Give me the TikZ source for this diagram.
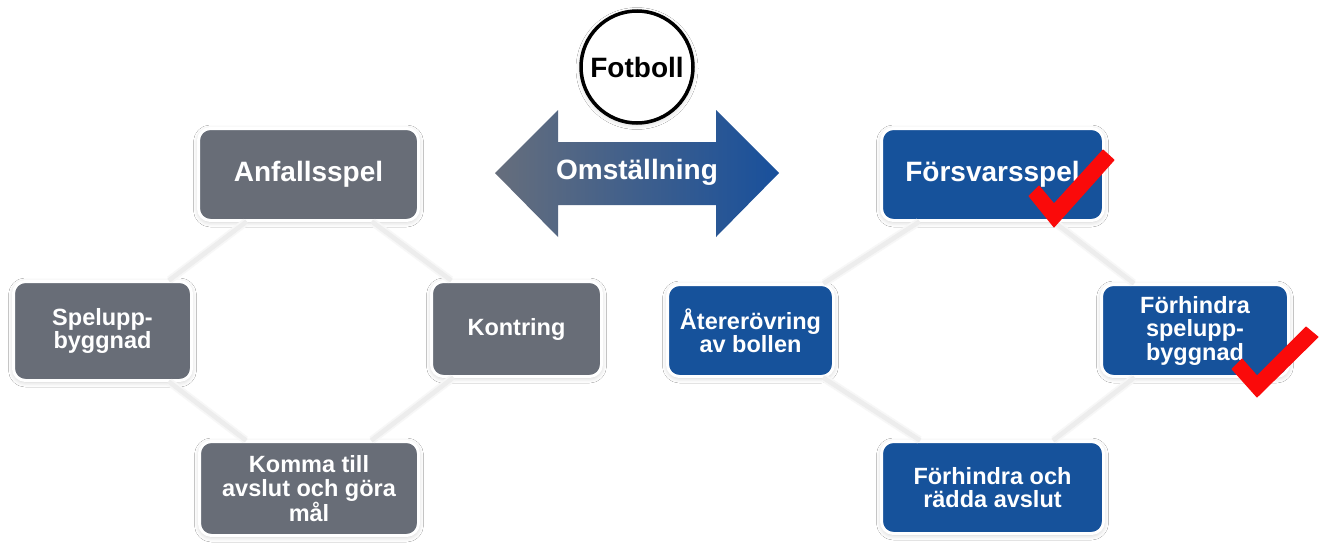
\documentclass[tikz,border=0pt]{standalone}
\usepackage{fontspec}
\setmainfont{Liberation Sans}
\usetikzlibrary{shadows.blur}
\definecolor{boxgray}{RGB}{104,109,119}
\definecolor{boxblue}{RGB}{22,82,155}
\definecolor{arrowleft}{RGB}{102,110,124}
\definecolor{arrowright}{RGB}{24,80,156}
\definecolor{linkgray}{RGB}{237,237,237}
\definecolor{linkshade}{RGB}{247,247,247}
\definecolor{checkred}{RGB}{250,10,10}
\begin{document}
\begin{tikzpicture}[x=1pt,y=-1pt,
  softshadow/.style={blur shadow={shadow xshift=0pt,shadow yshift=-1.5pt,shadow blur steps=8,shadow opacity=20,shadow blur radius=5pt}},
  box/.style={rounded corners=12pt,draw=white,line width=3pt,text=white,align=center,inner sep=0pt,softshadow,
    font=\bfseries\fontsize{23.5}{23.5}\selectfont},
  bigbox/.style={box,font=\bfseries\fontsize{28}{30}\selectfont},
  graybox/.style={fill=boxgray},
  bluebox/.style={fill=boxblue},
  link/.style={draw=linkgray,line width=4.5pt,shorten <=-1pt,shorten >=-1pt},
  linkhalo/.style={draw=linkshade,line width=8pt},
  check/.style={fill=checkred,draw=checkred,line width=1pt,line join=round}
]
\fill[white] (0,0) rectangle (1323,544);
\useasboundingbox (0,0) rectangle (1323,544);

% left group
\node[bigbox,graybox,minimum width=220pt,minimum height=92pt] (anf) at (308.5,174.5) {Anfallsspel};
\node[box,graybox,minimum width=178pt,minimum height=99pt] (spel) at (102.5,331) {Spelupp-\\byggnad};
\node[box,graybox,minimum width=170pt,minimum height=95pt] (kont) at (516.5,329) {Kontring};
\node[box,graybox,minimum width=219pt,minimum height=94pt] (komma) at (309,488.5) {Komma till\\avslut och göra\\mål};

% right group
\node[bigbox,bluebox,minimum width=222pt,minimum height=92pt] (forsv) at (992.5,174.5) {Försvarsspel};
\node[box,bluebox,minimum width=166pt,minimum height=92pt] (ater) at (750.5,330.5) {Återerövring\\av bollen};
\node[box,bluebox,minimum width=187pt,minimum height=92pt] (fspel) at (1195,330.5) {Förhindra\\spelupp-\\byggnad};
\node[box,bluebox,minimum width=222pt,minimum height=92pt] (frad) at (992.5,487.5) {Förhindra och\\rädda avslut};

% connectors (end at box borders)
\foreach \a/\b in {anf/spel,anf/kont,spel/komma,kont/komma,forsv/ater,forsv/fspel,ater/frad,fspel/frad}{
  \draw[linkhalo] (\a) -- (\b);
  \draw[link] (\a) -- (\b);
}

% double arrow
\shade[left color=arrowleft,right color=arrowright]
  (495,173) -- (558,110) -- (558,142) -- (716,142) -- (716,110) -- (779,173)
  -- (716,237) -- (716,205) -- (558,205) -- (558,237) -- cycle;
\node[text=white,font=\bfseries\fontsize{28}{30}\selectfont] (omst) at (637,172) {Omställning};

% circle
\node[circle,draw=black,line width=3.5pt,fill=white,minimum size=112pt,inner sep=0pt,softshadow,
  font=\bfseries\fontsize{28}{30}\selectfont] (fot) at (637,67) {Fotboll};

% check marks
\path[check] (1029,196) -- (1039,186) -- (1054,204) -- (1103,150) -- (1114,160) -- (1054,227) -- cycle;
\path[check] (1232,369) -- (1242,359) -- (1257,376) -- (1306,327) -- (1318,337) -- (1257,397) -- cycle;
\end{tikzpicture}
\end{document}
